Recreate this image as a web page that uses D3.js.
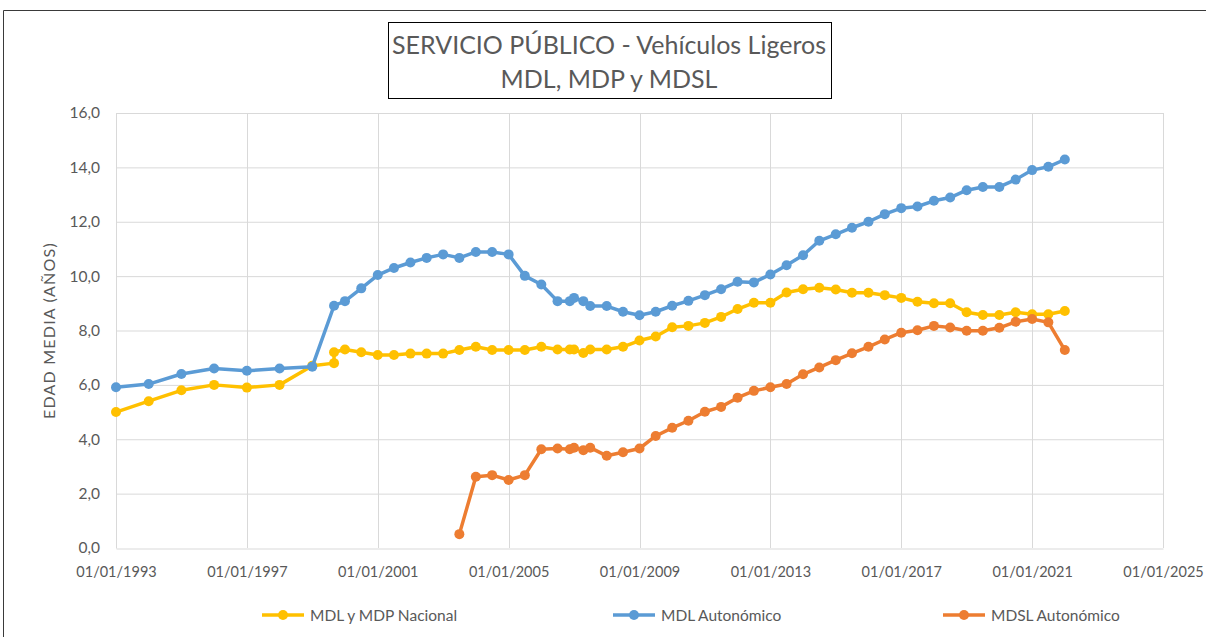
<!DOCTYPE html>
<html>
<head>
<meta charset="utf-8">
<script src="https://cdn.jsdelivr.net/npm/d3@7"></script>
<style>
  body { margin: 0; background: #fff; }
  svg text { font-family: Lato, "Open Sans", sans-serif; fill: #595959; }
</style>
</head>
<body>
<div id="chart"></div>
<script>
// MDL y MDP Nacional
let natDates = ['1993-01-01', '1994-01-01', '1995-01-01', '1996-01-01', '1997-01-01', '1998-01-01',
    '1999-01-01', '1999-09-01', '1999-09-01', '2000-01-01', '2000-07-01', '2001-01-01', '2001-07-01',
    '2002-01-01', '2002-07-01', '2003-01-01', '2003-07-01', '2004-01-01', '2004-07-01', '2005-01-01',
    '2005-07-01', '2006-01-01', '2006-07-01', '2006-11-15', '2007-01-01', '2007-04-15', '2007-07-01',
    '2008-01-01', '2008-07-01', '2009-01-01', '2009-07-01', '2010-01-01', '2010-07-01', '2011-01-01',
    '2011-07-01', '2012-01-01', '2012-07-01', '2013-01-01', '2013-07-01', '2014-01-01', '2014-07-01',
    '2015-01-01', '2015-07-01', '2016-01-01', '2016-07-01', '2017-01-01', '2017-07-01', '2018-01-01',
    '2018-07-01', '2019-01-01', '2019-07-01', '2020-01-01', '2020-07-01', '2021-01-01', '2021-07-01',
    '2022-01-01'];
let natValues = [5.0, 5.4, 5.8, 6.0, 5.9, 6.0,
    6.7, 6.8, 7.2, 7.3, 7.2, 7.1, 7.1,
    7.15, 7.15, 7.15, 7.28, 7.4, 7.28, 7.28,
    7.28, 7.4, 7.3, 7.3, 7.3, 7.17, 7.3,
    7.3, 7.4, 7.63, 7.78, 8.12, 8.17, 8.28,
    8.5, 8.79, 9.02, 9.02, 9.4, 9.52, 9.57,
    9.51, 9.39, 9.39, 9.3, 9.2, 9.06, 9.0,
    9.0, 8.67, 8.57, 8.57, 8.67, 8.6, 8.6,
    8.72];

// MDL Autonómico
let autDates = ['1993-01-01', '1994-01-01', '1995-01-01', '1996-01-01', '1997-01-01', '1998-01-01',
    '1999-01-01', '1999-09-01', '2000-01-01', '2000-07-01', '2001-01-01', '2001-07-01',
    '2002-01-01', '2002-07-01', '2003-01-01', '2003-07-01', '2004-01-01', '2004-07-01', '2005-01-01',
    '2005-07-01', '2006-01-01', '2006-07-01', '2006-11-15', '2007-01-01', '2007-04-15', '2007-07-01',
    '2008-01-01', '2008-07-01', '2009-01-01', '2009-07-01', '2010-01-01', '2010-07-01', '2011-01-01',
    '2011-07-01', '2012-01-01', '2012-07-01', '2013-01-01', '2013-07-01', '2014-01-01', '2014-07-01',
    '2015-01-01', '2015-07-01', '2016-01-01', '2016-07-01', '2017-01-01', '2017-07-01', '2018-01-01',
    '2018-07-01', '2019-01-01', '2019-07-01', '2020-01-01', '2020-07-01', '2021-01-01', '2021-07-01',
    '2022-01-01'];
let autValues = [5.91, 6.03, 6.4, 6.6, 6.52, 6.6,
    6.67, 8.91, 9.08, 9.55, 10.04, 10.3,
    10.5, 10.67, 10.8, 10.67, 10.89, 10.89, 10.8,
    10.01, 9.69, 9.08, 9.08, 9.2, 9.08, 8.9,
    8.9, 8.69, 8.56, 8.69, 8.91, 9.09, 9.3,
    9.52, 9.79, 9.77, 10.06, 10.4, 10.77, 11.3,
    11.54, 11.78, 12.0, 12.28, 12.5, 12.56, 12.77,
    12.89, 13.16, 13.28, 13.28, 13.55, 13.9, 14.02,
    14.29];

// MDSL Autonómico
let mdslDates = ['2003-07-01', '2004-01-01', '2004-07-01', '2005-01-01',
    '2005-07-01', '2006-01-01', '2006-07-01', '2006-11-15', '2007-01-01', '2007-04-15', '2007-07-01',
    '2008-01-01', '2008-07-01', '2009-01-01', '2009-07-01', '2010-01-01', '2010-07-01', '2011-01-01',
    '2011-07-01', '2012-01-01', '2012-07-01', '2013-01-01', '2013-07-01', '2014-01-01', '2014-07-01',
    '2015-01-01', '2015-07-01', '2016-01-01', '2016-07-01', '2017-01-01', '2017-07-01', '2018-01-01',
    '2018-07-01', '2019-01-01', '2019-07-01', '2020-01-01', '2020-07-01', '2021-01-01', '2021-07-01',
    '2022-01-01'];
let mdslValues = [0.51, 2.62, 2.68, 2.5,
    2.68, 3.63, 3.66, 3.63, 3.69, 3.6, 3.69,
    3.39, 3.52, 3.66, 4.12, 4.42, 4.68, 5.01,
    5.19, 5.53, 5.78, 5.91, 6.03, 6.39, 6.64,
    6.91, 7.16, 7.4, 7.67, 7.92, 8.01, 8.17,
    8.11, 7.99, 7.99, 8.1, 8.32, 8.42, 8.3,
    7.28];

let seriesNames = ['MDL y MDP Nacional', 'MDL Autonómico', 'MDSL Autonómico'];
let seriesColors = ['#FFC000', '#5B9BD5', '#ED7D31'];
let yTicks = [0, 2, 4, 6, 8, 10, 12, 14, 16];
let xTickYears = [1993, 1997, 2001, 2005, 2009, 2013, 2017, 2021, 2025];

let width = 1206, height = 637;
let margin = { left: 116, right: 43, top: 113, bottom: 89 };

let svg = d3.select('#chart').append('svg')
    .attr('width', width)
    .attr('height', height);

// chart border
svg.append('path')
    .attr('d', 'M3.5,637 L3.5,10.5 L1206,10.5')
    .attr('fill', 'none')
    .attr('stroke', '#3a3a3a')
    .attr('stroke-width', 1);

let parse = d3.timeParse('%Y-%m-%d');
let x = d3.scaleTime()
    .domain([new Date(1993, 0, 1), new Date(2025, 0, 1)])
    .range([margin.left, width - margin.right]);
let y = d3.scaleLinear()
    .domain([0, 16])
    .range([height - margin.bottom, margin.top]);

let xTicks = xTickYears.map(yr => new Date(yr, 0, 1));
let fmtDate = d3.timeFormat('%d/%m/%Y');
let fmtNum = d => d3.format('.1f')(d).replace('.', ',');

// gridlines
svg.append('g').selectAll('line').data(yTicks.slice(1)).enter()
    .append('line')
    .attr('x1', margin.left).attr('x2', width - margin.right)
    .attr('y1', d => y(d) + 0.5).attr('y2', d => y(d) + 0.5)
    .attr('stroke', '#d9d9d9');
svg.append('g').selectAll('line').data(xTicks).enter()
    .append('line')
    .attr('x1', d => Math.round(x(d)) + 0.5).attr('x2', d => Math.round(x(d)) + 0.5)
    .attr('y1', margin.top).attr('y2', height - margin.bottom)
    .attr('stroke', '#d9d9d9');

// x axis
let xAxis = svg.append('g')
    .attr('transform', `translate(0,${height - margin.bottom + 0.5})`)
    .call(d3.axisBottom(x).tickValues(xTicks).tickFormat(fmtDate).tickSize(0).tickPadding(18));
xAxis.select('.domain').attr('stroke', '#d9d9d9');
xAxis.selectAll('text').style('font-size', '14.5px').attr('fill', '#595959');

// y axis
let yAxis = svg.append('g')
    .attr('transform', `translate(${margin.left},0)`)
    .call(d3.axisLeft(y).tickValues(yTicks).tickFormat(fmtNum).tickSize(0).tickPadding(16));
yAxis.select('.domain').attr('stroke', '#d9d9d9');
yAxis.selectAll('text').style('font-size', '15.5px').attr('fill', '#595959');

svg.append('text')
    .attr('transform', `translate(55,${(margin.top + height - margin.bottom) / 2}) rotate(-90)`)
    .attr('text-anchor', 'middle')
    .style('font-size', '16px')
    .style('letter-spacing', '1.2px')
    .text('EDAD MEDIA (AÑOS)');

// series
let series = [
    { dates: natDates, values: natValues },
    { dates: autDates, values: autValues },
    { dates: mdslDates, values: mdslValues }
].map((s, i) => ({
    name: seriesNames[i],
    color: seriesColors[i],
    points: s.dates.map((d, j) => ({ date: parse(d), value: s.values[j] }))
}));

let line = d3.line()
    .x(d => x(d.date))
    .y(d => y(d.value));

let groups = svg.selectAll('.series').data(series).enter()
    .append('g')
    .attr('class', 'series');

groups.append('path')
    .attr('d', d => line(d.points))
    .attr('fill', 'none')
    .attr('stroke', d => d.color)
    .attr('stroke-width', 3.5)
    .attr('stroke-linejoin', 'round');

groups.each(function(s) {
    d3.select(this).selectAll('circle').data(s.points).enter()
        .append('circle')
        .attr('cx', d => x(d.date))
        .attr('cy', d => y(d.value))
        .attr('r', 5)
        .attr('fill', s.color);
});

// title box
let title = svg.append('g');
title.append('rect')
    .attr('x', 388.5).attr('y', 22.5)
    .attr('width', 443).attr('height', 76)
    .attr('fill', '#fff')
    .attr('stroke', '#000');
title.append('text')
    .attr('x', 609).attr('y', 54)
    .attr('text-anchor', 'middle')
    .style('font-size', '25px')
    .attr('fill', '#404040')
    .text('SERVICIO PÚBLICO - Vehículos Ligeros');
title.append('text')
    .attr('x', 609).attr('y', 88)
    .attr('text-anchor', 'middle')
    .style('font-size', '25px')
    .attr('fill', '#404040')
    .text('MDL, MDP y MDSL');

// legend
let legendX = [262, 613, 943];
let legend = svg.selectAll('.legend').data(series).enter()
    .append('g')
    .attr('class', 'legend')
    .attr('transform', (d, i) => `translate(${legendX[i]},615)`);
legend.append('line')
    .attr('x1', 0).attr('x2', 42)
    .attr('stroke', d => d.color)
    .attr('stroke-width', 3.5);
legend.append('circle')
    .attr('cx', 21).attr('r', 5)
    .attr('fill', d => d.color);
legend.append('text')
    .attr('x', 48).attr('y', 5.5)
    .style('font-size', '15.5px')
    .text(d => d.name);
</script>
</body>
</html>
